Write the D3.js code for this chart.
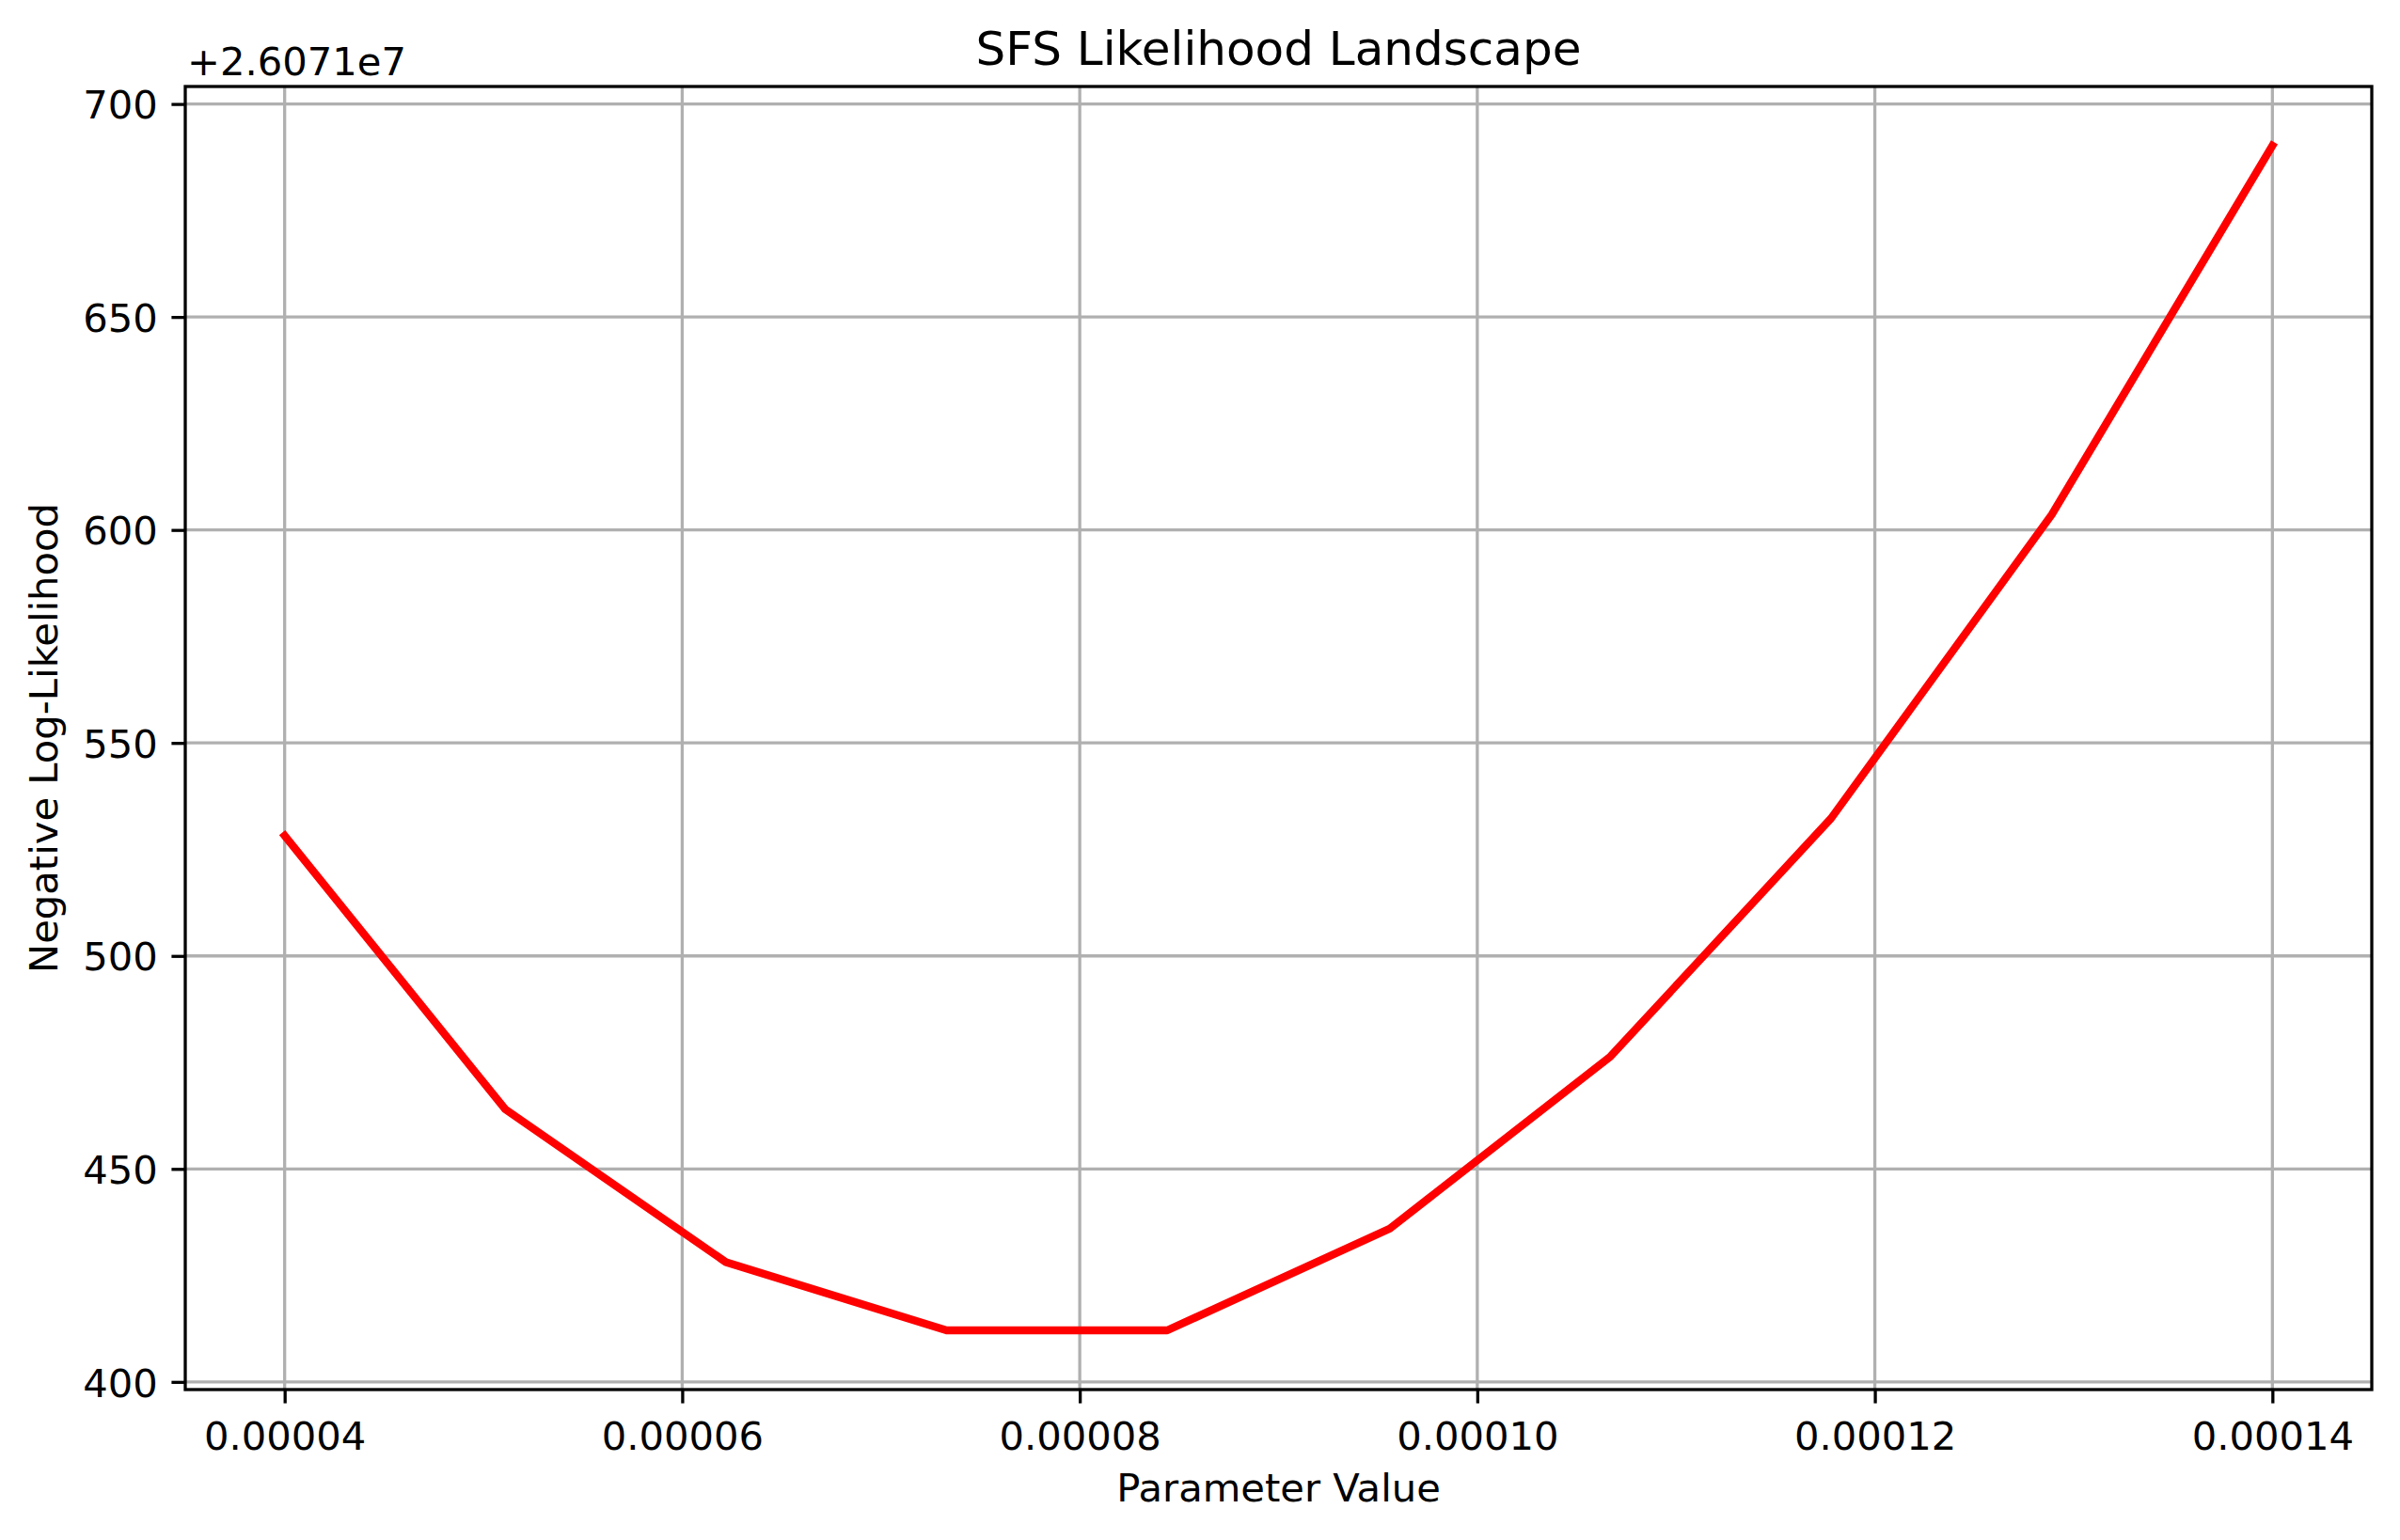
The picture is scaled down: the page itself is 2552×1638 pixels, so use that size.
<!DOCTYPE html>
<html>
<head>
<meta charset="utf-8">
<script src="https://cdn.jsdelivr.net/npm/d3@7"></script>
<style>
  body { margin: 0; background: #fff; }
  svg { display: block; }
  text { font-family: "DejaVu Sans", sans-serif; fill: #000; }
</style>
</head>
<body>
<svg id="chart" width="2552" height="1638"></svg>
<script>
// data
const paramValues = [0.00004, 0.0000511, 0.0000622, 0.0000733, 0.0000844,
                     0.0000956, 0.0001067, 0.0001178, 0.0001289, 0.00014];
const negLogLik = [26071528.2, 26071464.0, 26071428.1, 26071412.1, 26071412.1,
                   26071436.0, 26071476.4, 26071532.3, 26071603.6, 26071690.2];
const offset = 26071000;
const xTicks = [0.00004, 0.00006, 0.00008, 0.00010, 0.00012, 0.00014];
const yTicks = [400, 450, 500, 550, 600, 650, 700];

const svg = d3.select('#chart');
const plotL = 197, plotR = 2522, plotT = 92, plotB = 1478;
const fs = 41.7;

// scales (5% margins like matplotlib)
const xExt = d3.extent(paramValues);
const xPad = (xExt[1] - xExt[0]) * 0.05;
const x = d3.scaleLinear().domain([xExt[0] - xPad, xExt[1] + xPad]).range([plotL, plotR]);
const yVals = negLogLik.map(v => v - offset);
const yExt = d3.extent(yVals);
const yPad = (yExt[1] - yExt[0]) * 0.05;
const y = d3.scaleLinear().domain([yExt[0] - yPad, yExt[1] + yPad]).range([plotB, plotT]);

// grid
const grid = svg.append('g').attr('stroke', '#b0b0b0').attr('stroke-width', 3.3);
grid.selectAll('.gx').data(xTicks).join('line')
    .attr('x1', d => x(d)).attr('x2', d => x(d))
    .attr('y1', plotT).attr('y2', plotB);
grid.selectAll('.gy').data(yTicks).join('line')
    .attr('x1', plotL).attr('x2', plotR)
    .attr('y1', d => y(d)).attr('y2', d => y(d));

// line
const line = d3.line().x(d => x(d[0])).y(d => y(d[1]));
svg.append('path')
   .datum(paramValues.map((p, i) => [p, yVals[i]]))
   .attr('d', line)
   .attr('fill', 'none')
   .attr('stroke', '#ff0000')
   .attr('stroke-width', 8.33)
   .attr('stroke-linejoin', 'round')
   .attr('stroke-linecap', 'square');

// axes
const xAxis = d3.axisBottom(x).tickValues(xTicks).tickFormat(d3.format('.5f'))
                .tickSize(14.6).tickPadding(14.6);
const xG = svg.append('g').attr('transform', `translate(0, ${plotB})`).call(xAxis);
const yAxis = d3.axisLeft(y).tickValues(yTicks).tickFormat(d3.format('d'))
                .tickSize(14.6).tickPadding(14.6);
const yG = svg.append('g').attr('transform', `translate(${plotL}, 0)`).call(yAxis);
[xG, yG].forEach(g => {
    g.select('.domain').remove();
    g.selectAll('.tick line').attr('stroke', '#000').attr('stroke-width', 3.3);
    g.selectAll('.tick text').attr('font-size', fs).attr('font-family', '"DejaVu Sans", sans-serif').attr('fill', '#000');
});
xG.selectAll('.tick text').attr('dy', null).attr('y', 64);
yG.selectAll('.tick text').attr('dy', null).attr('y', 15.2);

// frame
svg.append('rect')
   .attr('x', plotL).attr('y', plotT)
   .attr('width', plotR - plotL).attr('height', plotB - plotT)
   .attr('fill', 'none').attr('stroke', '#000').attr('stroke-width', 3.3);

// texts
svg.append('text').attr('x', (plotL + plotR) / 2).attr('y', 69)
   .attr('text-anchor', 'middle').attr('font-size', 50)
   .text('SFS Likelihood Landscape');
svg.append('text').attr('x', (plotL + plotR) / 2).attr('y', 1597)
   .attr('text-anchor', 'middle').attr('font-size', fs)
   .text('Parameter Value');
svg.append('text')
   .attr('transform', `translate(61, ${(plotT + plotB) / 2}) rotate(-90)`)
   .attr('text-anchor', 'middle').attr('font-size', fs)
   .text('Negative Log-Likelihood');
svg.append('text').attr('x', 199).attr('y', 80)
   .attr('font-size', fs)
   .text('+2.6071e7');
</script>
</body>
</html>
